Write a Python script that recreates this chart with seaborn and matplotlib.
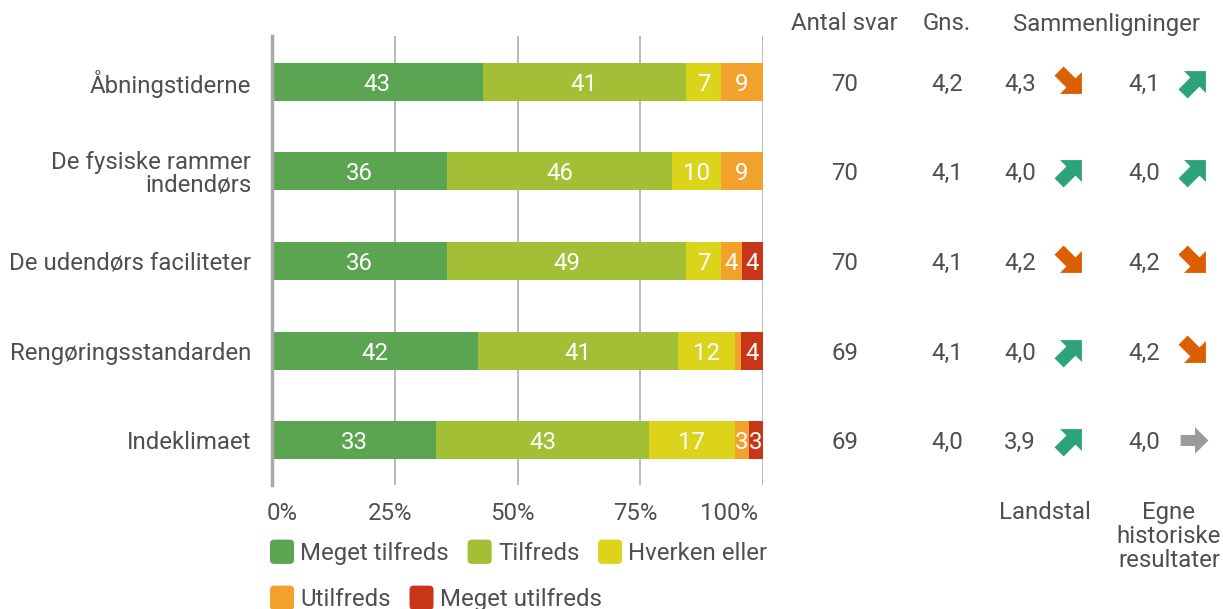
import numpy as np
import pandas as pd
import matplotlib
matplotlib.use("Agg")
import matplotlib.pyplot as plt
import seaborn as sns
from matplotlib.path import Path
from matplotlib.patches import Patch, FancyBboxPatch
from matplotlib.legend_handler import HandlerPatch
from matplotlib.transforms import blended_transform_factory, ScaledTranslation

# ---------------- data ----------------
categories = ["Åbningstiderne", "De fysiske rammer\nindendørs", "De udendørs faciliteter",
              "Rengøringsstandarden", "Indeklimaet"]
series_names = ["Meget tilfreds", "Tilfreds", "Hverken eller", "Utilfreds", "Meget utilfreds"]
meget_tilfreds = [42.9, 35.7, 35.7, 42.0, 33.4]
tilfreds = [41.4, 45.7, 48.6, 40.6, 43.4]
hverken_eller = [7.1, 10.0, 7.1, 11.6, 17.4]
utilfreds = [8.6, 8.6, 4.3, 1.4, 2.9]
meget_utilfreds = [0.0, 0.0, 4.3, 4.4, 2.9]
antal_svar = [70, 70, 70, 69, 69]
gns = ["4,2", "4,1", "4,1", "4,1", "4,0"]
landstal = ["4,3", "4,0", "4,2", "4,0", "3,9"]
landstal_dir = ["down", "up", "down", "up", "up"]
egne = ["4,1", "4,0", "4,2", "4,2", "4,0"]
egne_dir = ["up", "up", "down", "down", "same"]
x_ticks = [0, 25, 50, 75, 100]
x_ticklabels = ["0%", "25%", "50%", "75%", "100%"]
headers = ["Antal svar", "Gns.", "Sammenligninger"]
footer_labels = ["Landstal", "Egne\nhistoriske\nresultater"]

colors = ["#5BA552", "#A2BF36", "#DCD31B", "#F2A12C", "#C83619"]
dir_colors = {"up": "#2CA37A", "down": "#DA5F00", "same": "#9A9B9C"}
TXT = "#4F4F4F"
FS = 17.3

sns.set_theme(style="white")
plt.rcParams["font.family"] = ["Roboto", "DejaVu Sans"]

W, H = 1223, 609
fig = plt.figure(figsize=(W / 100, H / 100), dpi=100)
ax = fig.add_axes([272 / W, 1 - 485 / H, 491 / W, 449 / H])

series = [meget_tilfreds, tilfreds, hverken_eller, utilfreds, meget_utilfreds]
cum = np.cumsum(np.array(series), axis=0)
df = pd.DataFrame({"cat": categories})
for i in range(len(series)):
    df[f"cum{i}"] = cum[i]

# stacked bars: draw cumulative from last to first
for i in reversed(range(len(series))):
    sns.barplot(data=df, x=f"cum{i}", y="cat", color=colors[i], orient="h",
                width=0.425, saturation=1, linewidth=0, ax=ax, zorder=3)

# segment labels
for i in range(len(series)):
    for r in range(len(categories)):
        v = series[i][r]
        if v >= 2:
            start = cum[i][r] - v
            ax.text(start + v / 2, r, f"{v:.0f}", ha="center", va="center_baseline",
                    color="white", fontsize=FS, zorder=5)

ax.set_xlim(0, 100)
ax.set_ylim(4.5, -0.51)
ax.set_xlabel("")
ax.set_ylabel("")
ax.set_xticks(x_ticks)
ax.set_xticklabels(x_ticklabels)
ax.tick_params(axis="x", length=0, pad=12, labelsize=FS, labelcolor=TXT)
ax.tick_params(axis="y", length=0, pad=15, labelsize=FS, labelcolor=TXT)
for t in ax.get_yticklabels():
    t.set_linespacing(0.97)
ax.grid(axis="x", color="#B4B4B4", linewidth=1.3, zorder=0)
ax.grid(axis="y", visible=False)
for s in ["top", "right", "bottom"]:
    ax.spines[s].set_visible(False)
ax.spines["left"].set_color("#A8A8A8")
ax.spines["left"].set_linewidth(2.5)
ax.spines["left"].set_zorder(6)

shift = ScaledTranslation(-5 / 100, 0, fig.dpi_scale_trans)
for lbl, al in zip(ax.get_xticklabels(), ["left", "center", "center", "center", "right"]):
    lbl.set_horizontalalignment(al)
    lbl.set_transform(lbl.get_transform() + shift)

# right columns
trans = blended_transform_factory(fig.transFigure, ax.transData)
col_x = {"antal": 845, "gns": 947, "land": 1020, "land_arr": 1070, "egne": 1144, "egne_arr": 1194}


def arrow_marker(angle_deg):
    verts = np.array([(-0.5, -0.2), (0.02, -0.2), (0.02, -0.48), (0.5, 0.0),
                      (0.02, 0.48), (0.02, 0.2), (-0.5, 0.2), (-0.5, -0.2)])
    a = np.deg2rad(angle_deg)
    R = np.array([[np.cos(a), -np.sin(a)], [np.sin(a), np.cos(a)]])
    v = verts @ R.T
    codes = [Path.MOVETO] + [Path.LINETO] * 6 + [Path.CLOSEPOLY]
    return Path(v, codes)


dir_angle = {"up": 45, "down": -45, "same": 0}
dir_size = {"up": 23, "down": 23, "same": 20}

for r in range(len(categories)):
    for key, val in (("antal", str(antal_svar[r])), ("gns", gns[r]),
                     ("land", landstal[r]), ("egne", egne[r])):
        ax.text(col_x[key] / W, r, val, transform=trans, ha="center",
                va="center_baseline", fontsize=FS, color=TXT)
    for key, d in (("land_arr", landstal_dir[r]), ("egne_arr", egne_dir[r])):
        ax.scatter([col_x[key] / W], [r], transform=trans, marker=arrow_marker(dir_angle[d]),
                   s=dir_size[d] ** 2, color=dir_colors[d], linewidths=0, clip_on=False,
                   zorder=6)

# headers
fig.text(844 / W, 1 - 24 / H, headers[0], ha="center", va="center", fontsize=FS, color=TXT)
fig.text(947 / W, 1 - 24 / H, headers[1], ha="center", va="center", fontsize=FS, color=TXT)
fig.text(1106 / W, 1 - 24 / H, headers[2], ha="center", va="center", fontsize=FS, color=TXT)

# footer labels
fig.text(1045 / W, 1 - 501 / H, footer_labels[0], ha="center", va="top", fontsize=FS, color=TXT)
fig.text(1169 / W, 1 - 501 / H, footer_labels[1], ha="center", va="top", fontsize=FS, color=TXT,
         linespacing=1.06)


# legends with rounded square handles
def rounded(legend, orig_handle, xdescent, ydescent, width, height, fontsize):
    return FancyBboxPatch((-xdescent, -ydescent - 1), width, height + 2,
                          boxstyle="round,pad=0,rounding_size=3")


handles = [Patch(facecolor=c, edgecolor="none") for c in colors]
leg_kw = dict(loc="upper left", frameon=False, fontsize=FS, handlelength=1.0, handleheight=1.0,
              handletextpad=0.26, columnspacing=0.78, borderpad=0, borderaxespad=0,
              labelcolor=TXT, handler_map={Patch: HandlerPatch(patch_func=rounded)})
fig.legend(handles[:3], series_names[:3], ncol=3, bbox_to_anchor=(270 / W, 1 - 541 / H), **leg_kw)
fig.legend(handles[3:], series_names[3:], ncol=2, bbox_to_anchor=(270 / W, 1 - 587 / H), **leg_kw)

fig.savefig("out.png", dpi=100)
